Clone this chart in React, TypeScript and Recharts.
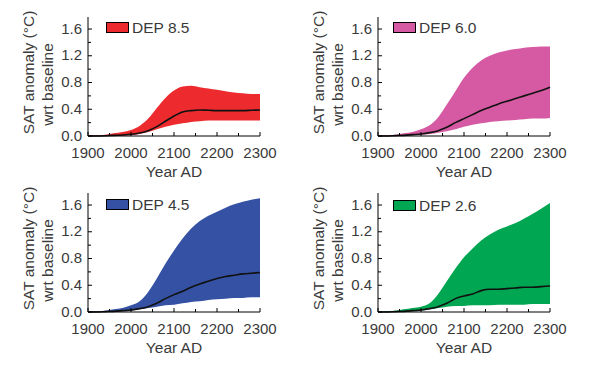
import React from 'react'
import { ComposedChart, Area, Line, XAxis, YAxis } from 'recharts'

// years sampled every 20 years
const years = [1900, 1920, 1940, 1960, 1980, 2000, 2020, 2040, 2060, 2080, 2100,
  2120, 2140, 2160, 2180, 2200, 2220, 2240, 2260, 2280, 2300]

const xTicks = [1900, 1950, 2000, 2050, 2100, 2150, 2200, 2250, 2300]
const yTicks = [0, 0.2, 0.4, 0.6, 0.8, 1.0, 1.2, 1.4, 1.6]

// DEP 8.5
const dep85Upper = [0.01, 0.01, 0.02, 0.04, 0.06, 0.09, 0.15, 0.26, 0.42, 0.57, 0.68, 0.74, 0.75, 0.73, 0.71, 0.69, 0.67, 0.65, 0.64, 0.63, 0.63]
const dep85Lower = [0, 0, 0, 0, 0.005, 0.01, 0.03, 0.06, 0.1, 0.14, 0.17, 0.19, 0.21, 0.22, 0.23, 0.23, 0.23, 0.23, 0.23, 0.23, 0.23]
const dep85Median = [0, 0, 0.003, 0.01, 0.015, 0.025, 0.045, 0.08, 0.14, 0.22, 0.3, 0.36, 0.38, 0.39, 0.385, 0.38, 0.38, 0.38, 0.38, 0.385, 0.39]

// DEP 6.0
const dep60Upper = [0.01, 0.01, 0.02, 0.04, 0.06, 0.1, 0.16, 0.28, 0.47, 0.67, 0.87, 1.02, 1.13, 1.2, 1.25, 1.28, 1.3, 1.32, 1.33, 1.34, 1.34]
const dep60Lower = [0, 0, 0, 0, 0.01, 0.02, 0.03, 0.05, 0.07, 0.1, 0.14, 0.17, 0.19, 0.21, 0.22, 0.23, 0.24, 0.25, 0.26, 0.26, 0.27]
const dep60Median = [0, 0, 0.005, 0.01, 0.02, 0.03, 0.05, 0.08, 0.13, 0.2, 0.26, 0.32, 0.38, 0.43, 0.48, 0.52, 0.56, 0.6, 0.64, 0.68, 0.73]

// DEP 4.5
const dep45Upper = [0.01, 0.01, 0.02, 0.04, 0.06, 0.1, 0.16, 0.3, 0.5, 0.72, 0.92, 1.1, 1.25, 1.36, 1.44, 1.5, 1.56, 1.61, 1.65, 1.68, 1.7]
const dep45Lower = [0, 0, 0, 0, 0.01, 0.02, 0.04, 0.06, 0.08, 0.1, 0.11, 0.13, 0.15, 0.16, 0.18, 0.19, 0.2, 0.21, 0.21, 0.22, 0.22]
const dep45Median = [0, 0, 0.005, 0.01, 0.02, 0.03, 0.05, 0.08, 0.13, 0.2, 0.26, 0.31, 0.37, 0.42, 0.46, 0.5, 0.53, 0.55, 0.57, 0.58, 0.59]

// DEP 2.6
const dep26Upper = [0.01, 0.01, 0.02, 0.04, 0.06, 0.08, 0.13, 0.27, 0.46, 0.65, 0.82, 0.95, 1.07, 1.16, 1.23, 1.28, 1.33, 1.4, 1.47, 1.55, 1.63]
const dep26Lower = [0, 0, 0, 0, 0.01, 0.02, 0.04, 0.06, 0.08, 0.09, 0.09, 0.1, 0.1, 0.1, 0.11, 0.11, 0.11, 0.11, 0.12, 0.12, 0.12]
const dep26Median = [0, 0, 0.005, 0.01, 0.02, 0.03, 0.05, 0.08, 0.13, 0.2, 0.24, 0.27, 0.32, 0.34, 0.34, 0.35, 0.36, 0.37, 0.37, 0.38, 0.39]

const FONT = '"Liberation Sans", Arial, sans-serif'
const TEXT = '#3a3a3a'

const buildRows = (upper: number[], lower: number[], median: number[]) =>
  years.map((year, i) => ({ year, band: [lower[i], upper[i]], median: median[i] }))

const XTick = ({ x, y, payload }: any) => {
  const major = payload.value % 100 === 0
  return (
    <g>
      <line x1={x} x2={x} y1={y} y2={y - (major ? 4 : 3)} stroke="#000" />
      {major && (
        <text x={x} y={y + 22} textAnchor="middle" fill={TEXT} fontSize={15} fontFamily={FONT}>
          {payload.value}
        </text>
      )}
    </g>
  )
}

const YTick = ({ x, y, payload }: any) => {
  const v = Math.round(payload.value * 10) / 10
  const major = Math.round(v * 10) % 4 === 0
  return (
    <g>
      <line x1={x} x2={x + (major ? 4 : 3)} y1={y} y2={y} stroke="#000" />
      {major && (
        <text x={x - 6} y={y + 4.5} textAnchor="end" fill={TEXT} fontSize={15} fontFamily={FONT}>
          {v.toFixed(1)}
        </text>
      )}
    </g>
  )
}

const YLabel = ({ viewBox }: any) => {
  const { y, height } = viewBox
  const c1y = y + height / 2 - 4
  const c2y = y + height / 2 + 8
  return (
    <g fill={TEXT} fontSize={15.5} fontFamily={FONT}>
      <text x={28} y={c1y} textAnchor="middle" dominantBaseline="central" transform={`rotate(-90, 28, ${c1y})`}>
        SAT anomaly (°C)
      </text>
      <text x={47} y={c2y} textAnchor="middle" dominantBaseline="central" transform={`rotate(-90, 47, ${c2y})`}>
        wrt baseline
      </text>
    </g>
  )
}

const XLabel = ({ viewBox }: any) => {
  const { x, y, width } = viewBox
  return (
    <text x={x + width / 2} y={y + 41} textAnchor="middle" fill={TEXT} fontSize={15.5} fontFamily={FONT}>
      Year AD
    </text>
  )
}

interface PanelProps {
  name: string
  color: string
  upper: number[]
  lower: number[]
  median: number[]
  left: number
  top: number
  legendLeft: number
  legendTop: number
}

function Panel({ name, color, upper, lower, median, left, top, legendLeft, legendTop }: PanelProps) {
  const data = buildRows(upper, lower, median)
  return (
    <div style={{ position: 'absolute', left, top, width: 300, height: 185 }}>
      <ComposedChart width={300} height={185} data={data} margin={{ top: 17, right: 40, bottom: 0, left: 0 }}>
        <XAxis
          dataKey="year"
          type="number"
          domain={[1900, 2300]}
          ticks={xTicks}
          interval={0}
          height={49}
          tickSize={0}
          tickMargin={0}
          tickLine={false}
          tick={<XTick />}
          axisLine={{ stroke: '#000' }}
          label={<XLabel />}
        />
        <XAxis xAxisId="top" orientation="top" type="number" domain={[1900, 2300]} height={0} tick={false} tickLine={false} axisLine={{ stroke: '#000' }} />
        <YAxis
          type="number"
          domain={[0, 1.78]}
          ticks={yTicks}
          interval={0}
          width={88}
          tickSize={0}
          tickMargin={0}
          tickLine={false}
          tick={<YTick />}
          axisLine={{ stroke: '#000' }}
          label={<YLabel />}
        />
        <YAxis yAxisId="right" orientation="right" type="number" domain={[0, 1.78]} width={0} tick={false} tickLine={false} axisLine={{ stroke: '#000' }} />
        <Area
          dataKey="band"
          type="monotone"
          stroke="none"
          fill={color}
          fillOpacity={1}
          isAnimationActive={false}
        />
        <Line
          dataKey="median"
          type="monotone"
          stroke="#111"
          strokeWidth={1.6}
          dot={false}
          isAnimationActive={false}
        />
      </ComposedChart>
      <div
        style={{
          position: 'absolute', left: legendLeft, top: legendTop, display: 'flex', alignItems: 'center',
          fontFamily: FONT, fontSize: 15.5, color: TEXT, lineHeight: 1,
        }}
      >
        <span style={{ display: 'inline-block', width: 23, height: 11, background: color, border: '1px solid #000', boxSizing: 'border-box', marginRight: 3 }} />
        <span>{name}</span>
      </div>
    </div>
  )
}

export default function App() {
  return (
    <div style={{ position: 'absolute', left: 0, top: 0, width: 599, height: 370, background: '#fff' }}>
      <Panel name="DEP 8.5" color="#ED2B2F" upper={dep85Upper} lower={dep85Lower} median={dep85Median} left={0} top={0} legendLeft={106} legendTop={20} />
      <Panel name="DEP 6.0" color="#D65AA3" upper={dep60Upper} lower={dep60Lower} median={dep60Median} left={290} top={0} legendLeft={103} legendTop={20} />
      <Panel name="DEP 4.5" color="#3551A4" upper={dep45Upper} lower={dep45Lower} median={dep45Median} left={0} top={176} legendLeft={106} legendTop={21} />
      <Panel name="DEP 2.6" color="#00A651" upper={dep26Upper} lower={dep26Lower} median={dep26Median} left={290} top={176} legendLeft={103} legendTop={22} />
    </div>
  )
}
